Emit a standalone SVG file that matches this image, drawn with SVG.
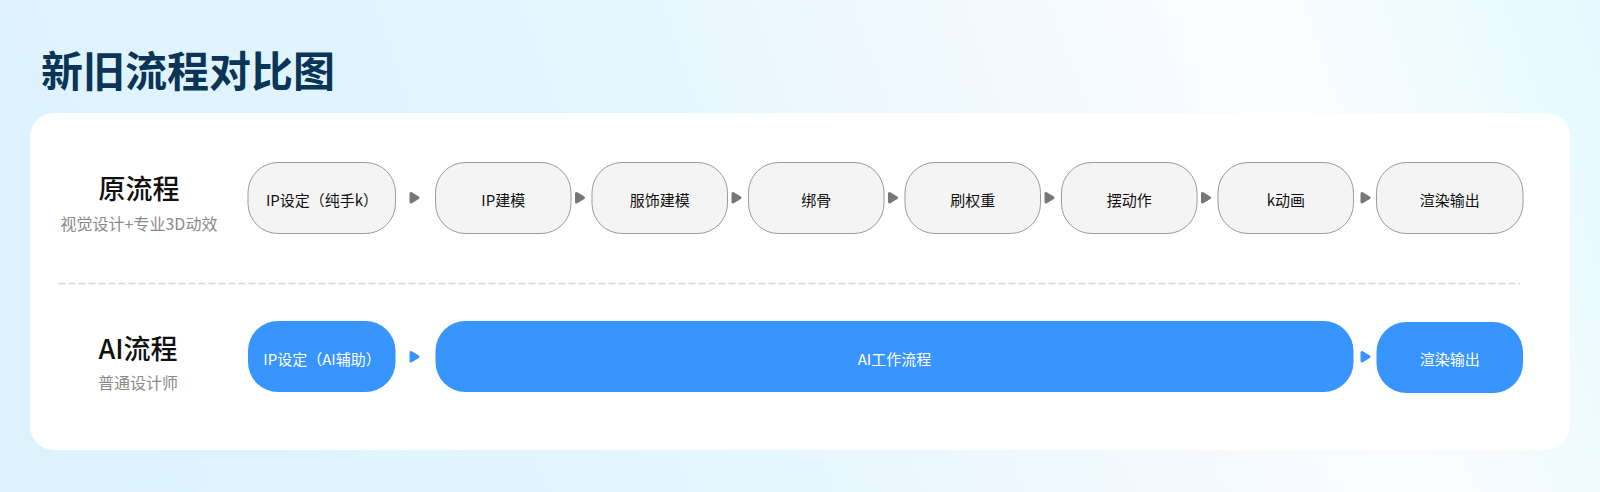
<svg xmlns="http://www.w3.org/2000/svg" width="1600" height="492" viewBox="0 0 1600 492">
  <defs>
    <linearGradient id="bg" gradientUnits="userSpaceOnUse" x1="0" y1="300" x2="1600" y2="-260">
      <stop offset="0" stop-color="#dcf2fd"/>
      <stop offset="0.35" stop-color="#e3f5fe"/>
      <stop offset="0.756" stop-color="#fbfcff"/>
      <stop offset="1" stop-color="#ddf9ff"/>
    </linearGradient>
    <style>
      text { font-family: "Noto Sans CJK SC", "Noto Sans", sans-serif; }
      .title { font-size: 42px; font-weight: 700; fill: #0b3556; }
      .rowlabel { font-size: 27px; font-weight: 500; fill: #111111; text-anchor: middle; }
      .rowsub { font-size: 16px; fill: #8a8a8a; text-anchor: middle; }
      .old rect { fill: #f4f4f4; stroke: #9a9a9a; stroke-width: 1; }
      .old text { font-size: 15px; fill: #111111; text-anchor: middle; }
      .ai rect { fill: #3895ff; }
      .ai text { font-size: 15px; fill: #ffffff; text-anchor: middle; }
      .arr-gray { fill: #777777; stroke: #777777; stroke-width: 3; stroke-linejoin: round; }
      .arr-blue { fill: #3895ff; stroke: #3895ff; stroke-width: 3; stroke-linejoin: round; }
    </style>
  </defs>

  <rect x="0" y="0" width="1600" height="492" fill="url(#bg)"/>
  <text class="title" x="41" y="68" dominant-baseline="central">新旧流程对比图</text>

  <rect id="card" x="30" y="113" width="1540" height="337" rx="24" fill="#ffffff"/>

  <g id="label-old">
    <text class="rowlabel" x="139" y="187" dominant-baseline="central">原流程</text>
    <text class="rowsub" x="139" y="222.5" dominant-baseline="central">视觉设计+专业3D动效</text>
  </g>
  <g id="label-ai">
    <text class="rowlabel" x="138" y="347" dominant-baseline="central">AI流程</text>
    <text class="rowsub" x="138" y="382" dominant-baseline="central">普通设计师</text>
  </g>

  <line id="divider" x1="58.5" y1="283.5" x2="1520" y2="283.5" stroke="#d6d6d6" stroke-width="1.3" stroke-dasharray="7 3"/>

  <g id="old-1" class="old"><rect x="248" y="162.5" width="147.5" height="71" rx="30"/><text x="322" y="199" dominant-baseline="central">IP设定（纯手k）</text></g>
  <g id="old-2" class="old"><rect x="435.5" y="162.5" width="135.5" height="71" rx="30"/><text x="503.3" y="199" dominant-baseline="central">IP建模</text></g>
  <g id="old-3" class="old"><rect x="592" y="162.5" width="135.5" height="71" rx="30"/><text x="659.8" y="199" dominant-baseline="central">服饰建模</text></g>
  <g id="old-4" class="old"><rect x="748.5" y="162.5" width="135.5" height="71" rx="30"/><text x="816.3" y="199" dominant-baseline="central">绑骨</text></g>
  <g id="old-5" class="old"><rect x="905" y="162.5" width="135.5" height="71" rx="30"/><text x="972.8" y="199" dominant-baseline="central">刷权重</text></g>
  <g id="old-6" class="old"><rect x="1061.5" y="162.5" width="135.5" height="71" rx="30"/><text x="1129.3" y="199" dominant-baseline="central">摆动作</text></g>
  <g id="old-7" class="old"><rect x="1218" y="162.5" width="135.5" height="71" rx="30"/><text x="1285.8" y="199" dominant-baseline="central">k动画</text></g>
  <g id="old-8" class="old"><rect x="1376.5" y="162.5" width="146.5" height="71" rx="30"/><text x="1449.8" y="199" dominant-baseline="central">渲染输出</text></g>

  <g id="ai-1" class="ai"><rect x="248" y="321" width="147.5" height="71" rx="30"/><text x="322" y="358" dominant-baseline="central">IP设定（AI辅助）</text></g>
  <g id="ai-2" class="ai"><rect x="435.5" y="321" width="918" height="71" rx="30"/><text x="894.5" y="358" dominant-baseline="central">AI工作流程</text></g>
  <g id="ai-3" class="ai"><rect x="1376.5" y="322" width="146.5" height="71" rx="30"/><text x="1449.8" y="358.5" dominant-baseline="central">渲染输出</text></g>

  <g id="connectors">
    <path class="arr-gray" d="M411,193.5 L418,197.8 L411,202 Z"/>
    <path class="arr-gray" d="M576.5,193.5 L583.5,197.8 L576.5,202 Z"/>
    <path class="arr-gray" d="M733,193.5 L740,197.8 L733,202 Z"/>
    <path class="arr-gray" d="M889.5,193.5 L896.5,197.8 L889.5,202 Z"/>
    <path class="arr-gray" d="M1046,193.5 L1053,197.8 L1046,202 Z"/>
    <path class="arr-gray" d="M1202.5,193.5 L1209.5,197.8 L1202.5,202 Z"/>
    <path class="arr-gray" d="M1362,193.5 L1369,197.8 L1362,202 Z"/>
    <path class="arr-blue" d="M411,352.5 L418,356.8 L411,361 Z"/>
    <path class="arr-blue" d="M1362,352.5 L1369,356.8 L1362,361 Z"/>
  </g>
</svg>
